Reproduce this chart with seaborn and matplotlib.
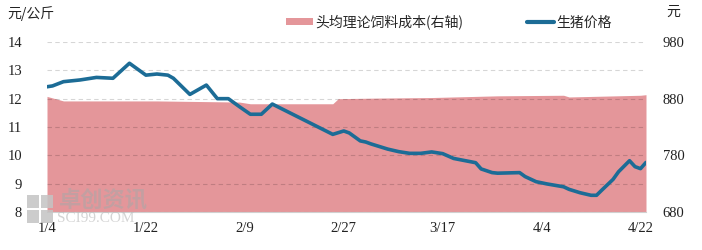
import matplotlib
matplotlib.use("Agg")
import matplotlib.pyplot as plt
from matplotlib.patches import Patch, Rectangle
from matplotlib.lines import Line2D
import seaborn as sns
import pandas as pd

# ---- data ----
pig_dates = ["2023-01-04", "2023-01-05", "2023-01-07", "2023-01-10", "2023-01-13", "2023-01-16",
             "2023-01-19", "2023-01-22", "2023-01-24", "2023-01-26", "2023-01-27", "2023-01-30",
             "2023-02-02", "2023-02-04", "2023-02-06", "2023-02-08", "2023-02-10", "2023-02-12",
             "2023-02-14", "2023-02-25", "2023-02-27", "2023-02-28", "2023-03-02", "2023-03-03",
             "2023-03-04", "2023-03-07", "2023-03-09", "2023-03-11", "2023-03-13", "2023-03-15",
             "2023-03-17", "2023-03-19", "2023-03-23", "2023-03-24", "2023-03-26", "2023-03-27",
             "2023-03-31", "2023-04-01", "2023-04-03", "2023-04-05", "2023-04-08", "2023-04-09",
             "2023-04-11", "2023-04-13", "2023-04-14", "2023-04-15", "2023-04-17", "2023-04-18",
             "2023-04-20", "2023-04-21", "2023-04-22", "2023-04-23"]
pig_price = [12.42, 12.45, 12.60, 12.66, 12.75, 12.72,
             13.25, 12.83, 12.87, 12.83, 12.72, 12.15,
             12.48, 12.00, 12.00, 11.72, 11.45, 11.45,
             11.81, 10.74, 10.86, 10.79, 10.51, 10.47,
             10.40, 10.22, 10.13, 10.07, 10.07, 10.12,
             10.06, 9.89, 9.74, 9.52, 9.39, 9.37,
             9.39, 9.25, 9.07, 8.99, 8.89, 8.80,
             8.68, 8.59, 8.59, 8.78, 9.15, 9.42,
             9.81, 9.60, 9.53, 9.75]

feed_dates = ["2023-01-04", "2023-01-07", "2023-01-24", "2023-02-08", "2023-02-10", "2023-02-25",
              "2023-02-26", "2023-03-05", "2023-03-15", "2023-03-27", "2023-04-08", "2023-04-09",
              "2023-04-22", "2023-04-23"]
feed_cost = [884, 876, 876, 874, 871, 871,
             880, 881, 882, 885, 886, 883,
             886, 887]

left_ticks = [8, 9, 10, 11, 12, 13, 14]
right_ticks = [680, 780, 880, 980]
tick_dates = ["2023-01-04", "2023-01-22", "2023-02-09", "2023-02-27",
              "2023-03-17", "2023-04-04", "2023-04-22"]
tick_labels = ["1/4", "1/22", "2/9", "2/27", "3/17", "4/4", "4/22"]
feed_label = "头均理论饲料成本(右轴)"
pig_label = "生猪价格"

pig_df = pd.DataFrame({"date": pd.to_datetime(pig_dates), "price": pig_price})
feed_df = pd.DataFrame({"date": pd.to_datetime(feed_dates), "cost": feed_cost})

# ---- style ----
sns.set_style("white")
plt.rcParams["font.family"] = ["Noto Sans CJK SC", "DejaVu Sans"]

FILL = "#e4969a"
LINE = "#1c6c96"
num_font = ["Liberation Serif", "DejaVu Serif"]

fig = plt.figure(figsize=(7.02, 2.5), dpi=100)
ax1 = fig.add_axes([47 / 702, 1 - 212 / 250, (646 - 47) / 702, 170 / 250])
ax2 = ax1.twinx()
ax1.set_zorder(ax2.get_zorder() + 1)
ax1.patch.set_visible(False)

# area (right axis)
ax2.fill_between(feed_df["date"], feed_df["cost"], 680, color=FILL, linewidth=0, zorder=1)
ax2.set_ylim(680, 980)
ax2.set_yticks(right_ticks)
ax2.set_yticklabels([str(v) for v in right_ticks], family=num_font, fontsize=10.5, color="#222222")
ax2.tick_params(axis="y", length=0, pad=12)
for s in ax2.spines.values():
    s.set_visible(False)

# line (left axis)
sns.lineplot(data=pig_df, x="date", y="price", ax=ax1, color=LINE, linewidth=2.6, legend=False)
ax1.set_ylim(8, 14)
ax1.set_yticks(left_ticks)
ax1.set_yticklabels([str(v) for v in left_ticks], family=num_font, fontsize=10.5, color="#222222")
ax1.tick_params(axis="y", length=0, pad=18)
ax1.yaxis.grid(True, linestyle=(0, (4, 3)), color="black", alpha=0.16, linewidth=0.8)
ax1.set_xlim(pig_df["date"].min(), pig_df["date"].max())
ax1.set_xticks(pd.to_datetime(tick_dates))
ax1.set_xticklabels(tick_labels, family=num_font, fontsize=10.5, color="#222222")
ax1.tick_params(axis="x", length=4, color="#c8c8c8", pad=3)
ax1.set_xlabel("")
ax1.set_ylabel("")
for k, s in ax1.spines.items():
    s.set_visible(k == "bottom")
ax1.spines["bottom"].set_color("#d0d0d0")
ax1.spines["bottom"].set_linewidth(0.8)

# unit labels
fig.text(7 / 702, 1 - 14 / 250, "元/公斤", fontsize=10, va="center", ha="left", color="#222222")
fig.text(673 / 702, 1 - 12 / 250, "元", fontsize=10, va="center", ha="center", color="#222222")

# legend
handles = [Patch(facecolor=FILL, edgecolor="none"), Line2D([0], [0], color=LINE, linewidth=3)]
fig.legend(handles, [feed_label, pig_label], ncol=2, loc="center",
           bbox_to_anchor=(0.64, 1 - 22 / 250), frameon=False, fontsize=10,
           columnspacing=4.6, handlelength=1.9, handletextpad=0.2, handleheight=0.45)

# watermark
for (x0, y0) in [(27, 195), (41, 195), (27, 210), (41, 210)]:
    fig.patches.append(Rectangle((x0 / 702, 1 - (y0 + 13) / 250), 12 / 702, 13 / 250,
                                 transform=fig.transFigure, facecolor="#c4c4c4",
                                 edgecolor="none", alpha=0.85, zorder=10))
fig.text(59 / 702, 1 - 200 / 250, "卓创资讯", fontsize=16, color="#a8a8a8", alpha=0.55,
         va="center", ha="left", fontweight="bold", zorder=11)
fig.text(57 / 702, 1 - 219 / 250, "SCI99.COM", fontsize=11, color="#b8b8b8", alpha=0.6,
         va="center", ha="left", family=num_font, zorder=11)

fig.savefig("out.png", dpi=100)
